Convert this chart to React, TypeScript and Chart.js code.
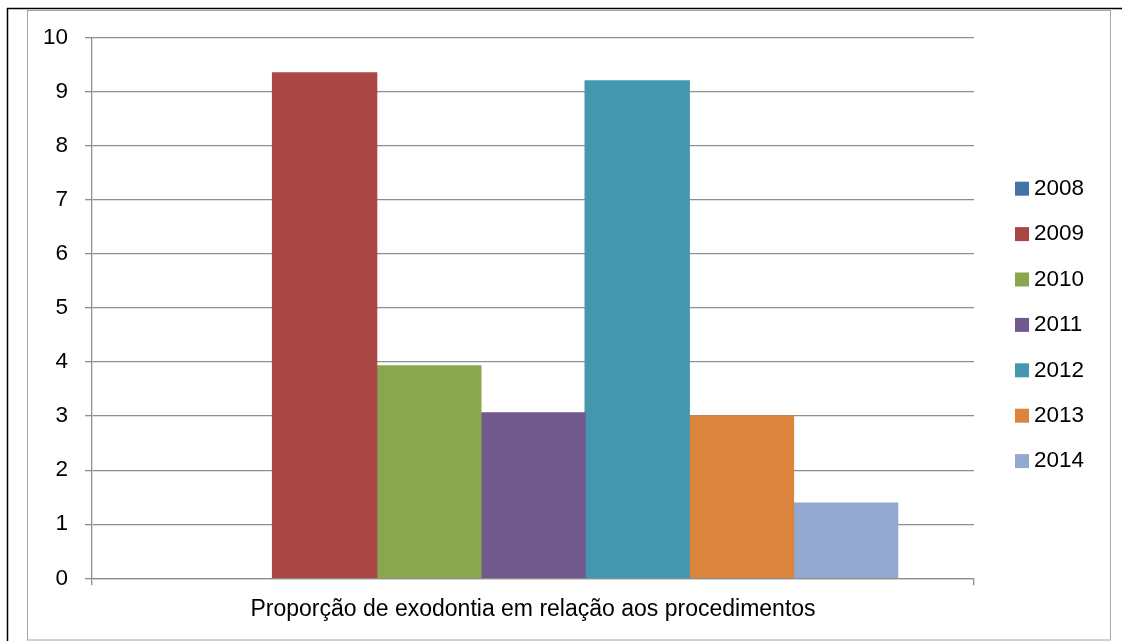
import React, { useEffect, useRef } from "react";
import { Chart, registerables } from "chart.js";

Chart.register(...registerables);

const CATEGORIES = ["Proporção de exodontia em relação aos procedimentos"];
const YEARS = ["2008", "2009", "2010", "2011", "2012", "2013", "2014"];
const VALUES = [0, 9.35, 3.93, 3.06, 9.2, 3.0, 1.39];
const COLORS = ["#4572A7", "#AA4644", "#8AA64F", "#71598E", "#4398AF", "#DB843E", "#93A9CF"];
const Y_TICKS = [0, 1, 2, 3, 4, 5, 6, 7, 8, 9, 10];

const FONT = "'Liberation Sans', Arial, sans-serif";
const GRID = "#8E8E8E";

const framePlugin = {
  id: "frame",
  beforeDraw(chart: any) {
    const ctx = chart.ctx;
    ctx.save();
    ctx.fillStyle = "#ffffff";
    ctx.fillRect(0, 0, chart.width, chart.height);
    ctx.strokeStyle = "#A6A6A6";
    ctx.lineWidth = 1;
    ctx.strokeRect(27.5, 10.5, 1083, 629.5);
    ctx.strokeStyle = "#000000";
    ctx.lineWidth = 1.5;
    ctx.beginPath();
    ctx.moveTo(7, 8.5);
    ctx.lineTo(chart.width, 8.5);
    ctx.moveTo(7.5, 8);
    ctx.lineTo(7.5, chart.height);
    ctx.stroke();
    ctx.restore();
  },
};

const legendPlugin = {
  id: "sideLegend",
  afterDraw(chart: any) {
    const ctx = chart.ctx;
    ctx.save();
    ctx.font = `22.5px ${FONT}`;
    ctx.textBaseline = "middle";
    ctx.textAlign = "left";
    chart.data.datasets.forEach((ds: any, i: number) => {
      const cy = 188.7 + i * 45.4;
      ctx.fillStyle = ds.backgroundColor;
      ctx.fillRect(1015, cy - 7, 14, 14);
      ctx.fillStyle = "#000000";
      ctx.fillText(ds.label, 1034, cy);
    });
    ctx.restore();
  },
};

export default function App() {
  const canvasRef = useRef<HTMLCanvasElement | null>(null);

  useEffect(() => {
    const canvas = canvasRef.current;
    if (!canvas) return;
    const chart = new Chart(canvas, {
      type: "bar",
      data: {
        labels: CATEGORIES,
        datasets: YEARS.map((y, i) => ({
          label: y,
          data: [VALUES[i]],
          backgroundColor: COLORS[i],
          borderWidth: 0,
          inflateAmount: (c: any) => (c.raw ? 0.6 : 0),
          categoryPercentage: 0.827,
          barPercentage: 1,
        })),
      },
      options: {
        responsive: false,
        animation: false,
        devicePixelRatio: 1,
        layout: { padding: { left: 40, right: 148, top: 37.7, bottom: 0 } },
        plugins: {
          legend: { display: false },
          tooltip: { enabled: false },
          title: { display: false },
        },
        scales: {
          x: {
            type: "category",
            grid: {
              display: true,
              drawOnChartArea: false,
              drawTicks: true,
              tickLength: 7,
              color: GRID,
              offset: true,
              lineWidth: 1.3,
            },
            border: { display: true, color: GRID, width: 1.3 },
            ticks: { display: false },
            title: {
              display: true,
              text: CATEGORIES[0],
              color: "#000000",
              font: { family: FONT, size: 23 },
              padding: { top: 0, bottom: 18 },
            },
            afterFit(scale: any) {
              scale.height = 62.7;
            },
          },
          y: {
            min: 0,
            max: 10,
            afterBuildTicks(scale: any) {
              scale.ticks = Y_TICKS.map((v) => ({ value: v }));
            },
            grid: {
              color: GRID,
              tickLength: 7,
              lineWidth: 1.3,
            },
            border: { display: true, color: GRID, width: 1.3 },
            ticks: {
              color: "#000000",
              font: { family: FONT, size: 22.5 },
              padding: 17,
            },
            afterFit(scale: any) {
              scale.width = 52;
            },
          },
        },
      },
      plugins: [framePlugin, legendPlugin],
    });
    return () => chart.destroy();
  }, []);

  return (
    <div style={{ position: "absolute", left: 0, top: 0, width: 1122, height: 641 }}>
      <canvas ref={canvasRef} width={1122} height={641} style={{ width: 1122, height: 641, display: "block" }} />
    </div>
  );
}
